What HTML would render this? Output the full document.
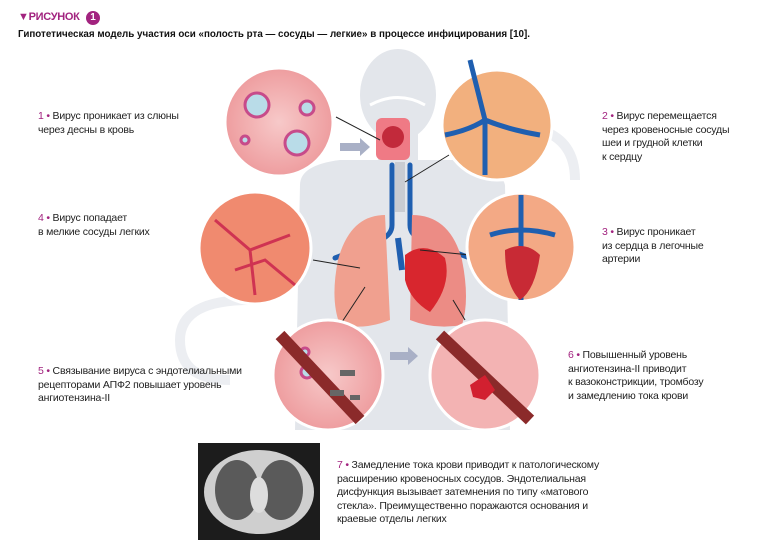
<!DOCTYPE html>
<html><head><meta charset="utf-8"><style>
body{margin:0;width:760px;height:559px;background:#fff;overflow:hidden;font-family:"Liberation Sans",sans-serif;position:relative}
.t{position:absolute;font-size:10.5px;line-height:13.5px;color:#222;letter-spacing:-0.2px}
.n{color:#a2237f}
</style></head><body>
<svg width="760" height="559" style="position:absolute;left:0;top:0">
<defs>
<radialGradient id="pk" cx="50%" cy="50%" r="50%"><stop offset="0" stop-color="#f7c9c9"/><stop offset="1" stop-color="#ee9d9f"/></radialGradient>
</defs>
<path d="M250 300 Q180 300 180 340 Q180 380 230 380" fill="none" stroke="#eceef2" stroke-width="10"/>
<path d="M540 130 Q575 140 575 180" fill="none" stroke="#eceef2" stroke-width="10"/>
<g fill="#e3e6eb">
<ellipse cx="398" cy="95" rx="38" ry="46"/>
<rect x="378" y="130" width="40" height="40"/>
<path d="M300 185 Q300 165 340 160 L460 160 Q500 165 505 185 L510 430 L295 430 Z"/>
</g>
<path d="M370 105 Q398 90 425 105" stroke="#fff" stroke-width="3" fill="none"/>
<g fill="#a9b0c6">
<path d="M340 143 h20 v-5 l10 9 -10 9 v-5 h-20z"/>
<path d="M310 245 h-18 v-5 l-10 9 10 9 v-5 h18z"/>
<path d="M390 352 h18 v-5 l10 9 -10 9 v-5 h-18z"/>
</g>
<g stroke="#1f5fb0" fill="none" stroke-linecap="round">
<path d="M392 165 V225 Q392 235 380 240 L335 258" stroke-width="5"/>
<path d="M410 165 V225 Q410 235 422 240 L470 258" stroke-width="5"/>
</g>
<rect x="395" y="162" width="10" height="50" fill="#c9ccd2"/>
<path d="M385 215 Q350 215 338 260 Q330 300 340 325 Q365 330 390 320 Z" fill="#f0a08f"/>
<path d="M412 215 Q450 215 462 260 Q470 300 462 325 Q435 330 410 320 Z" fill="#ec8c85"/>
<path d="M405 255 Q425 240 445 258 Q452 285 430 312 Q410 300 405 280Z" fill="#d8262e"/>
<path d="M398 238 L402 270" stroke="#1f5fb0" stroke-width="6"/>
<rect x="376" y="118" width="34" height="42" rx="6" fill="#ef7a85"/>
<ellipse cx="393" cy="137" rx="11" ry="11" fill="#c22a3b"/>
<g stroke="#222" stroke-width="1">
<line x1="336" y1="117" x2="380" y2="140"/>
<line x1="449" y1="155" x2="405" y2="182"/>
<line x1="313" y1="260" x2="360" y2="268"/>
<line x1="420" y1="250" x2="470" y2="255"/>
<line x1="340" y1="325" x2="365" y2="287"/>
<line x1="453" y1="300" x2="465" y2="320"/>
</g>
<g stroke="#fff" stroke-width="3">
<circle cx="279" cy="122" r="54" fill="url(#pk)"/>
<circle cx="497" cy="125" r="55" fill="#f2b07e"/>
<circle cx="255" cy="248" r="56" fill="#f08a6f"/>
<circle cx="521" cy="247" r="54" fill="#f3a985"/>
<circle cx="328" cy="375" r="55" fill="url(#pk)"/>
<circle cx="485" cy="375" r="55" fill="#f3b3b3"/>
</g>
<g fill="#b9dce8" stroke="#c74b8a" stroke-width="3">
<circle cx="257" cy="105" r="12"/><circle cx="297" cy="143" r="12"/><circle cx="307" cy="108" r="7"/><circle cx="245" cy="140" r="4"/>
<circle cx="305" cy="352" r="4"/><circle cx="307" cy="372" r="6"/><circle cx="350" cy="410" r="4"/>
</g>
<path d="M470 60 L485 120 V175 M485 120 Q470 130 445 135 M485 120 Q510 130 540 135" stroke="#1f5fb0" stroke-width="5" fill="none"/>
<path d="M521 195 V300 M490 235 Q520 225 555 235" stroke="#1f5fb0" stroke-width="5" fill="none"/>
<path d="M505 250 Q525 240 540 255 Q535 290 520 300 Q505 285 505 250Z" fill="#c82a35"/>
<g stroke="#cf3352" stroke-width="3" fill="none">
<path d="M215 220 L250 250 L290 235 M235 270 L265 260 L295 285 M250 250 L255 295"/>
</g>
<path d="M280 335 L360 420" stroke="#8b2a2a" stroke-width="12"/>
<path d="M440 335 L530 420" stroke="#8b2a2a" stroke-width="12"/>
<path d="M470 385 l15 -10 10 15 -10 10 -12 -3z" fill="#d22030"/>
<g fill="#666"><rect x="340" y="370" width="15" height="6"/><rect x="330" y="390" width="14" height="6"/><rect x="350" y="395" width="10" height="5"/></g>
<rect x="198" y="443" width="122" height="97" fill="#1c1c1c"/>
<ellipse cx="259" cy="492" rx="55" ry="42" fill="#cfcfcf"/>
<ellipse cx="237" cy="490" rx="22" ry="30" fill="#5a5a5a"/>
<ellipse cx="281" cy="490" rx="22" ry="30" fill="#5a5a5a"/>
<ellipse cx="259" cy="495" rx="9" ry="18" fill="#ddd"/>
</svg>
<div style="position:absolute;left:18px;top:11px;font-weight:bold;font-size:11px;letter-spacing:-0.3px;color:#a2237f">▼РИСУНОК</div>
<div style="position:absolute;left:86px;top:11px;width:14px;height:14px;border-radius:50%;background:#a2237f;color:#fff;font-size:10px;font-weight:bold;text-align:center;line-height:14px">1</div>
<div style="position:absolute;left:18px;top:28px;font-weight:bold;font-size:10.5px;color:#111;transform:scaleX(0.935);transform-origin:0 0;white-space:nowrap">Гипотетическая модель участия оси «полость рта — сосуды — легкие» в процессе инфицирования [10].</div>
<div class="t" style="left:38px;top:110px"><span class="n">1 •</span> Вирус проникает из слюны<br>через десны в кровь</div>
<div class="t" style="left:602px;top:110px"><span class="n">2 •</span> Вирус перемещается<br>через кровеносные сосуды<br>шеи и грудной клетки<br>к сердцу</div>
<div class="t" style="left:38px;top:212px"><span class="n">4 •</span> Вирус попадает<br>в мелкие сосуды легких</div>
<div class="t" style="left:602px;top:226px"><span class="n">3 •</span> Вирус проникает<br>из сердца в легочные<br>артерии</div>
<div class="t" style="left:38px;top:365px"><span class="n">5 •</span> Связывание вируса с эндотелиальными<br>рецепторами АПФ2 повышает уровень<br>ангиотензина-II</div>
<div class="t" style="left:568px;top:349px"><span class="n">6 •</span> Повышенный уровень<br>ангиотензина-II приводит<br>к вазоконстрикции, тромбозу<br>и замедлению тока крови</div>
<div class="t" style="left:337px;top:459px"><span class="n">7 •</span> Замедление тока крови приводит к патологическому<br>расширению кровеносных сосудов. Эндотелиальная<br>дисфункция вызывает затемнения по типу «матового<br>стекла». Преимущественно поражаются основания и<br>краевые отделы легких</div>
</body></html>
